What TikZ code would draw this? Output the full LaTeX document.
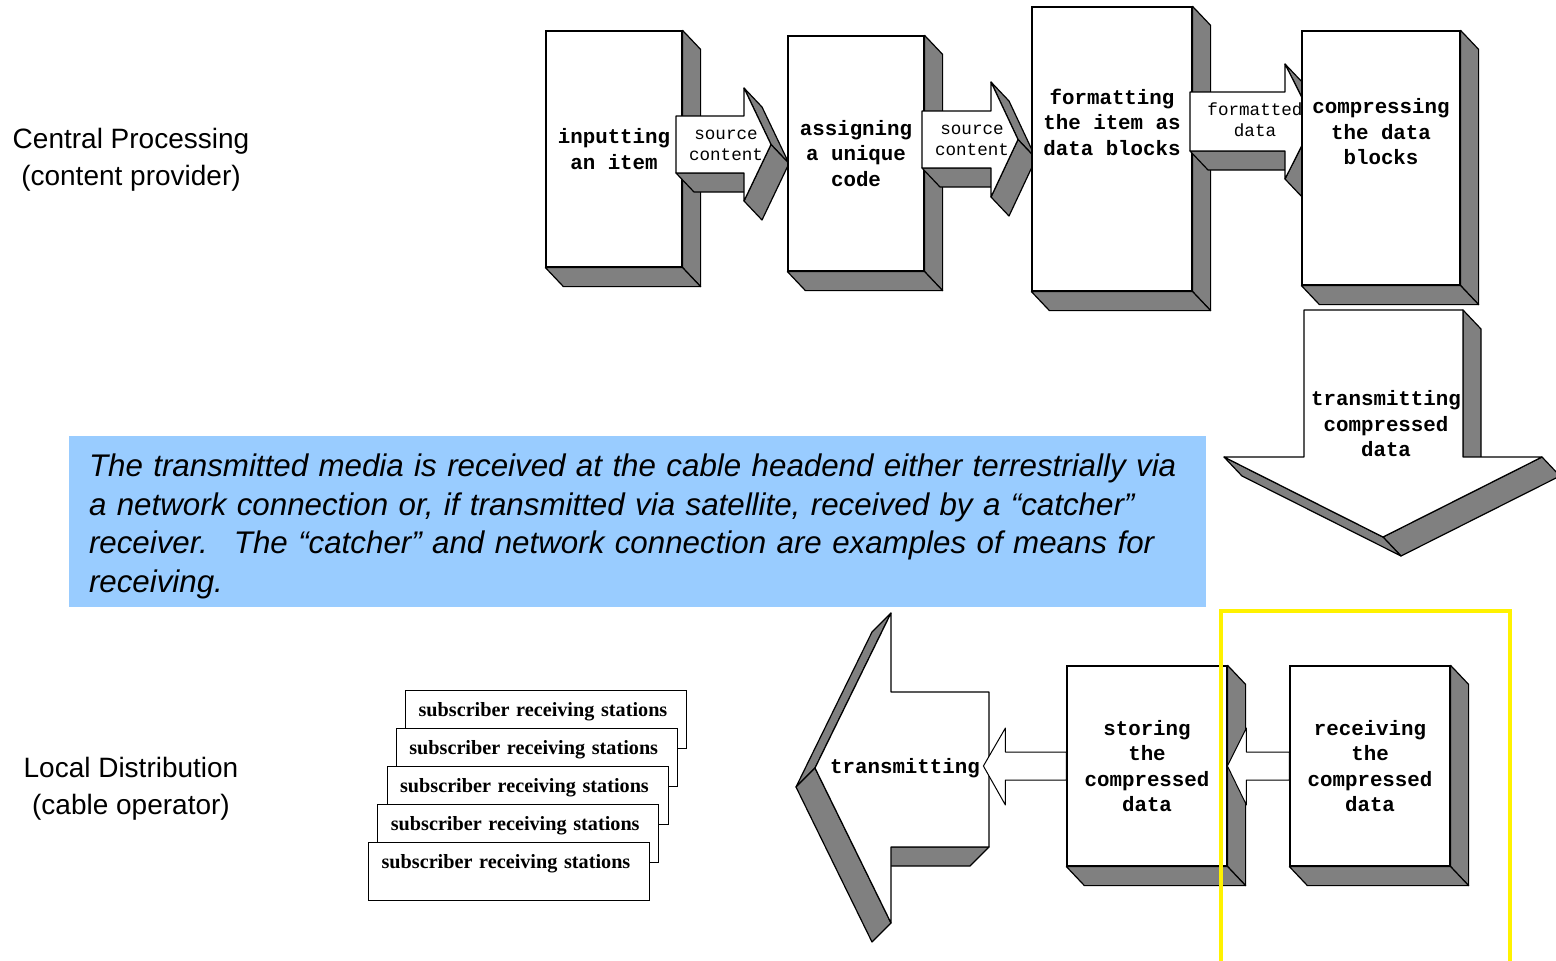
\documentclass[tikz,border=0pt]{standalone}
\usepackage{fontspec}
\setmainfont{Liberation Sans}
\newfontfamily\codefont{Liberation Mono}
\newfontfamily\stationfont{Liberation Serif}
\usetikzlibrary{positioning}

\definecolor{shadegray}{HTML}{808080}
\definecolor{noteblue}{HTML}{99CCFF}

\tikzset{
  boxnode/.style={draw, fill=white, line width=1.2pt, inner sep=0pt, align=center,
    font=\codefont\bfseries\fontsize{20.8}{25.5}\selectfont},
  boxtext/.style={align=center, inner sep=0pt, font=\codefont\bfseries\fontsize{20.8}{25.5}\selectfont},
  flowtext/.style={align=center, inner sep=0pt, font=\codefont\fontsize{17.6}{21}\selectfont},
  shadeface/.style={draw, fill=shadegray, line width=1.2pt, line join=round},
  frontface/.style={draw, fill=white, line width=1.2pt, line join=round},
  thinarrow/.style={draw, fill=white, line width=1pt, line join=round},
  station/.style={draw, fill=white, line width=1.2pt, anchor=north west,
    minimum width=281pt, minimum height=58pt, text width=255pt, inner xsep=13pt, inner ysep=4pt,
    text height=22pt, text depth=28pt, align=left,
    font=\stationfont\bfseries\fontsize{20.2}{24}\selectfont},
  sidelabel/.style={align=center, inner sep=0pt, font=\fontsize{28}{36.5}\selectfont},
  notebox/.style={fill=noteblue, minimum width=1137pt, minimum height=171pt, inner sep=0pt},
  notetext/.style={text width=1097pt, inner sep=0pt, align=left,
    font=\itshape\fontsize{31.3}{38.6}\selectfont},
}

% right and bottom faces of a solid box
\newcommand{\boxsides}[1]{%
  \draw[shadeface] (#1.north east) -- ++(18,19) -- ([shift={(18,19)}]#1.south east) -- (#1.south east) -- cycle;
  \draw[shadeface] (#1.south west) -- (#1.south east) -- ([shift={(18,19)}]#1.south east) -- ([shift={(18,19)}]#1.south west) -- cycle;
}

% solid arrow pointing right: body x #1..#2, body y #3..#4, head y #5..#6, tip x #7
\newcommand{\flowarrow}[7]{%
  \pgfmathsetmacro\midy{(#5+#6)/2}
  \draw[shadeface] (#1,#4) -- (#2,#4) -- (#2+18,#4+19) -- (#1+18,#4+19) -- cycle;
  \draw[shadeface] (#2,#5) -- (#7,\midy) -- (#7+18,\midy+19) -- (#2+18,#5+19) -- cycle;
  \draw[shadeface] (#7,\midy) -- (#2,#6) -- (#2+18,#6+19) -- (#7+18,\midy+19) -- cycle;
  \draw[frontface] (#1,#3) -- (#2,#3) -- (#2,#5) -- (#7,\midy) -- (#2,#6) -- (#2,#4) -- (#1,#4) -- cycle;
}

\begin{document}
\begin{tikzpicture}[x=1pt, y=-1pt]
\useasboundingbox (0,0) rectangle (1556,961);

% row labels
\node[sidelabel] (central) at (131,160) {Central Processing\\(content provider)};
\node[sidelabel] (local) at (131,789) {Local Distribution\\(cable operator)};

% central processing chain
\node[boxnode, minimum width=136pt, minimum height=236pt] (input) at (614,149) {inputting\\an item};
\boxsides{input}
\flowarrow{676}{744}{116}{173}{88}{201}{771}
\node[flowtext] (src1) at (726,145.5) {source\\content};

\node[boxnode, minimum width=136pt, minimum height=235pt] (assign) at (856,153.5) {assigning\\a unique\\code};
\boxsides{assign}
\flowarrow{922}{991}{111}{168}{82}{197}{1018}
\node[flowtext] (src2) at (972,140.5) {source\\content};

\node[boxnode, minimum width=160pt, minimum height=284pt,
  label={[boxtext, yshift=27pt]center:{formatting\\the item as\\data blocks}}] (format) at (1112,149) {};
\boxsides{format}
\flowarrow{1190}{1285}{92}{151}{64}{179}{1314}
\node[flowtext] (fdata) at (1255,119.5) {formatted\\data};

\node[boxnode, minimum width=158pt, minimum height=254pt,
  label={[boxtext, yshift=26pt]center:{compressing\\the data\\blocks}}] (compress) at (1381,158) {};
\boxsides{compress}

% transmitting downwards
\draw[shadeface] (1463,310) -- (1481,329) -- (1481,476) -- (1463,457) -- cycle;
\draw[shadeface] (1542,457) -- (1560,476) -- (1401,556) -- (1383,537) -- cycle;
\draw[shadeface] (1383,537) -- (1401,556) -- (1242,476) -- (1224,457) -- cycle;
\draw[frontface] (1304,310) -- (1463,310) -- (1463,457) -- (1542,457) -- (1383,537) -- (1224,457) -- (1304,457) -- cycle;
\node[boxtext] (sendc) at (1386,424) {transmitting\\compressed\\data};

% headend note
\node[notebox, label={[notetext, yshift=-5pt]center:{The transmitted media is received at the cable headend either terrestrially via\\
a network connection or, if transmitted via satellite, received by a “catcher”\\
receiver.~ The “catcher” and network connection are examples of means for\\
receiving.}}] (note) at (637.5,521.5) {};

% local distribution chain
\draw[shadeface] (815,768) -- (891,613) -- (872,632) -- (796,787) -- cycle;
\draw[shadeface] (891,923) -- (815,768) -- (796,787) -- (872,942) -- cycle;
\draw[shadeface] (989,847) -- (891,847) -- (872,866) -- (970,866) -- cycle;
\draw[frontface] (815,768) -- (891,613) -- (891,692) -- (989,692) -- (989,847) -- (891,847) -- (891,923) -- cycle;
\node[boxtext] (send) at (905,768) {transmitting};

\node[boxnode, minimum width=160pt, minimum height=200pt] (store) at (1147,766) {storing\\the\\compressed\\data};
\draw[thinarrow] ([yshift=14pt]store.west) -- ++(-61,0) -- ++(0,-24) -- ++(-22,38) -- ++(22,39) -- ++(0,-25) -- ([yshift=-14pt]store.west) -- cycle;
\boxsides{store}

\node[boxnode, minimum width=160pt, minimum height=200pt] (receive) at (1370,766) {receiving\\the\\compressed\\data};
\draw[thinarrow] ([yshift=14pt]receive.west) -- ++(-43,0) -- ++(0,-24) -- ++(-19,38) -- ++(19,39) -- ++(0,-25) -- ([yshift=-14pt]receive.west) -- cycle;
\boxsides{receive}

% stack of subscriber stations
\foreach \i in {0,...,4}
  \node[station] (st\i) at ({405-9.25*\i},{690+38*\i}) {subscriber receiving stations};

% highlight
\draw[yellow, line width=4pt] (1221,961) -- (1221,611) -- (1510,611) -- (1510,961);

\end{tikzpicture}
\end{document}
